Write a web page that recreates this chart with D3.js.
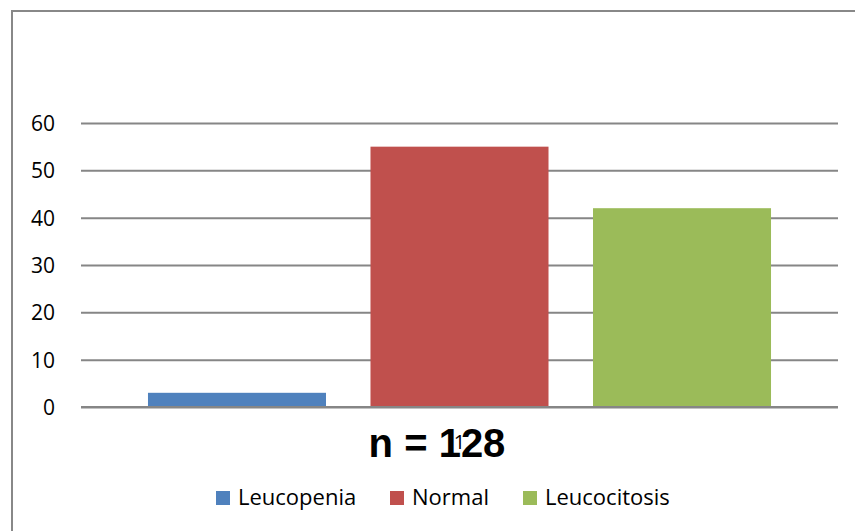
<!DOCTYPE html>
<html>
<head>
<meta charset="utf-8">
<script src="https://cdn.jsdelivr.net/npm/d3@7"></script>
<style>
  body { margin: 0; background: #fff; }
  svg { display: block; font-family: "Open Sans", sans-serif; }
</style>
</head>
<body>
<div class="display"></div>
<script>
const WIDTH = 855;
const HEIGHT = 531;

// chart data
const categories = ['Leucopenia', 'Normal', 'Leucocitosis'];
const values = [3, 55, 42];
const colors = ['#4F81BD', '#C0504D', '#9BBB59'];
const yTicks = [0, 10, 20, 30, 40, 50, 60];
const xLabel = '1';
const caption = 'n = 128';

const plot = { left: 81, right: 838, top: 123, bottom: 407 };

const svg = d3.select('.display')
  .append('svg')
  .attr('width', WIDTH)
  .attr('height', HEIGHT);

// chart frame (runs off the right and bottom)
svg.append('rect')
  .attr('x', 12).attr('y', 11)
  .attr('width', 860).attr('height', 540)
  .attr('fill', 'none')
  .attr('stroke', '#888')
  .attr('stroke-width', 2);

const x = d3.scaleBand()
  .domain(categories)
  .range([plot.left, plot.right])
  .paddingInner(0.2)
  .paddingOuter(0.301);

const y = d3.scaleLinear()
  .domain([0, 60])
  .range([plot.bottom, plot.top]);

// gridlines + labels
const yAxis = d3.axisLeft(y)
  .tickValues(yTicks)
  .tickSize(-(plot.right - plot.left))
  .tickPadding(26);

const yg = svg.append('g')
  .attr('transform', `translate(${plot.left},0)`)
  .call(yAxis);
yg.select('.domain').remove();
yg.selectAll('.tick line')
  .attr('stroke', '#868686')
  .attr('stroke-width', 2);
yg.selectAll('.tick text')
  .attr('fill', '#000')
  .style('font-size', '21px')
  .style('font-family', '"Open Sans", sans-serif')
  .attr('dy', '0.35em');

svg.selectAll('.bar')
  .data(values)
  .enter()
  .append('rect')
  .attr('class', 'bar')
  .attr('x', (d, i) => x(categories[i]))
  .attr('y', d => y(d))
  .attr('width', x.bandwidth())
  .attr('height', d => y(0) - y(d))
  .attr('fill', (d, i) => colors[i]);

// baseline on top of bars
svg.append('line')
  .attr('x1', plot.left).attr('x2', plot.right)
  .attr('y1', y(0)).attr('y2', y(0))
  .attr('stroke', '#868686')
  .attr('stroke-width', 2);

// category label "1" under the axis
svg.append('text')
  .attr('x', (plot.left + plot.right) / 2)
  .attr('y', 449)
  .attr('text-anchor', 'middle')
  .style('font-size', '20px')
  .text(xLabel);

// bold caption overlapping it
svg.append('text')
  .attr('x', 437)
  .attr('y', 457)
  .attr('text-anchor', 'middle')
  .style('font-family', '"Liberation Sans", Arial, sans-serif')
  .style('font-weight', 'bold')
  .style('font-size', '40px')
  .text(caption);

// legend
const legendX = [216, 390, 523];
const legend = svg.selectAll('.legend')
  .data(categories)
  .enter()
  .append('g')
  .attr('class', 'legend')
  .attr('transform', (d, i) => `translate(${legendX[i]},491)`);

legend.append('rect')
  .attr('width', 14).attr('height', 14)
  .attr('fill', (d, i) => colors[i]);

legend.append('text')
  .attr('x', 22)
  .attr('y', 14)
  .style('font-size', '22px')
  .text(d => d);
</script>
</body>
</html>
